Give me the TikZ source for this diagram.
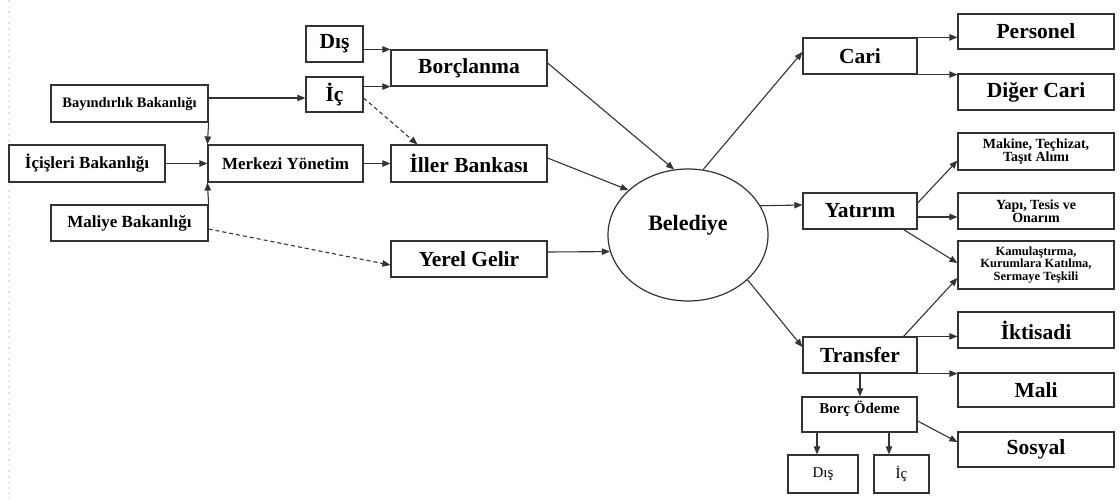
\documentclass[tikz,border=0pt]{standalone}
\usepackage{fontspec}
\setmainfont{Liberation Serif}
\usetikzlibrary{arrows.meta,shapes.geometric}
\newcommand\fsz[1]{\fontsize{#1}{#1}\selectfont}
\begin{document}
\begin{tikzpicture}[x=0.5pt,y=-0.5pt,
  box/.style={draw=black!80, line width=0.6pt, inner sep=0pt, align=center, font=\bfseries\fsz{10.75}},
  arr/.style={draw=black!80, line width=0.55pt, -{Triangle[length=4pt,width=3.2pt]}},
  dsh/.style={arr, dash pattern=on 2pt off 1.5pt}]
\useasboundingbox (0,0) rectangle (1120,499);
\draw[black!12, dotted, line width=0.8pt] (9,0) -- (9,499);
% left part
\node[box, minimum width=28.5pt, minimum height=18pt] (dis1) at (334.5,44) {Dış};
\node[box, minimum width=28.5pt, minimum height=17.5pt] (ic1) at (334.5,94.5) {İç};
\node[box, font=\bfseries\fsz{7.25}, minimum width=78.5pt, minimum height=18.5pt] (bay) at (129.5,103.5) {Bayındırlık Bakanlığı};
\node[box, font=\bfseries\fsz{8.5}, minimum width=78pt, minimum height=18.5pt] (ici) at (87,163.5) {İçişleri Bakanlığı};
\node[box, font=\bfseries\fsz{8.5}, minimum width=77.5pt, minimum height=18.5pt] (mer) at (285.5,163.5) {Merkezi Yönetim};
\node[box, font=\bfseries\fsz{8.5}, minimum width=78.5pt, minimum height=18pt] (mal) at (129.5,223) {Maliye Bakanlığı};
\node[box, minimum width=78pt, minimum height=18pt] (bor) at (469,68) {Borçlanma};
\node[box, minimum width=78pt, minimum height=18.5pt] (ill) at (469,163.5) {İller Bankası};
\node[box, minimum width=78pt, minimum height=18pt] (yer) at (469,259) {Yerel Gelir};
\node[draw=black!80, line width=0.6pt, ellipse, minimum width=80pt, minimum height=66pt, inner sep=0pt] (bel) at (688,235) {};
\node[font=\bfseries\fsz{11}] (beltxt) at (688,225) {Belediye};
% right part
\node[box, minimum width=57pt, minimum height=18pt] (cari) at (860,56) {Cari};
\node[box, minimum width=78pt, minimum height=17.5pt] (pers) at (1036,31.5) {Personel};
\node[box, minimum width=78pt, minimum height=18pt] (dig) at (1036,92) {Diğer Cari};
\node[box, font=\bfseries\fontsize{7}{6.5}\selectfont, minimum width=78pt, minimum height=18.5pt] (mak) at (1036,151.5) {Makine, Teçhizat,\\Taşıt Alımı};
\node[box, minimum width=57pt, minimum height=18pt] (yat) at (860,211) {Yatırım};
\node[box, font=\bfseries\fontsize{7}{6.5}\selectfont, minimum width=78pt, minimum height=18pt] (yap) at (1036,211) {Yapı, Tesis ve\\Onarım};
\node[box, font=\bfseries\fontsize{6.25}{6.4}\selectfont, minimum width=78pt, minimum height=24pt] (kam) at (1036,265) {Kamulaştırma,\\Kurumlara Katılma,\\Sermaye Teşkili};
\node[box, minimum width=78pt, minimum height=18pt] (ikt) at (1036,330) {İktisadi};
\node[box, minimum width=57pt, minimum height=18pt] (tra) at (860,355) {Transfer};
\node[box, minimum width=78pt, minimum height=17pt] (mali) at (1036,390) {Mali};
\node[box, font=\bfseries\fsz{7.5}, minimum width=57.5pt, minimum height=17.5pt] (boro) at (859.5,414.5) {\raisebox{7.5pt}{Borç Ödeme}};
\node[box, minimum width=78pt, minimum height=17.5pt] (sos) at (1036,449.5) {Sosyal};
\node[box, font=\fsz{7.5}, minimum width=35pt, minimum height=19pt] (dis2) at (823,474) {Dış};
\node[box, font=\fsz{7.5}, minimum width=27.5pt, minimum height=19pt] (ic2) at (901.5,474) {İç};
% connectors left
\draw[arr] (dis1.east |- bor.north west) -- (bor.north west);
\draw[arr] (ic1.east |- bor.south west) -- (bor.south west);
\draw[arr] ([yshift=-1.75pt]ic1.west -| bay.east) -- ([yshift=-1.75pt]ic1.west);
\draw[arr] (bay.south east) -- (mer.north west);
\draw[arr] (mal.north east) -- (mer.south west);
\draw[arr] (ici.east) -- (mer.west);
\draw[arr] (mer.east) -- (ill.west);
\draw[dsh] ([yshift=-1.75pt]ic1.east) -- ([xshift=13.5pt]ill.north west);
\draw[dsh] ([yshift=-3pt]mal.east) -- ([yshift=-3pt]yer.west);
\draw[arr] ([yshift=2.5pt]bor.east) -- (bel.102.8);
\draw[arr] ([yshift=2.75pt]ill.east) -- (bel.143.1);
\draw[arr] ([yshift=3.5pt]yer.east) -- (bel.192.4);
% connectors right
\draw[arr] (bel.77) -- ([yshift=2pt]cari.west);
\draw[arr] (cari.north east) -- (cari.north east -| pers.west);
\draw[arr] (cari.south east) -- (cari.south east -| dig.west);
\draw[arr] (bel.22.8) -- ([yshift=3pt]yat.west);
\draw[arr] ([yshift=4pt]yat.east) -- ([yshift=5pt]mak.south west);
\draw[arr] ([yshift=-3pt]yat.east) -- ([yshift=-3pt]yat.east -| yap.west);
\draw[arr] ([xshift=-7pt]yat.south east) -- ([yshift=1pt]kam.west);
\draw[arr] (bel.323.9) -- ([yshift=4pt]tra.west);
\draw[arr] ([xshift=-7pt]tra.north east) -- ([yshift=-6.5pt]kam.west);
\draw[arr] (tra.north east) -- (tra.north east -| ikt.west);
\draw[arr] (tra.south east) -- (tra.south east -| mali.west);
\draw[arr] (tra.south) -- (tra.south |- boro.north);
\draw[arr] ([yshift=-3.25pt]boro.east) -- ([yshift=3.75pt]sos.west);
\draw[arr] ([xshift=-3pt]dis2.north |- boro.south) -- ([xshift=-3pt]dis2.north);
\draw[arr] ([xshift=-6.25pt]ic2.north |- boro.south) -- ([xshift=-6.25pt]ic2.north);
\end{tikzpicture}
\end{document}
